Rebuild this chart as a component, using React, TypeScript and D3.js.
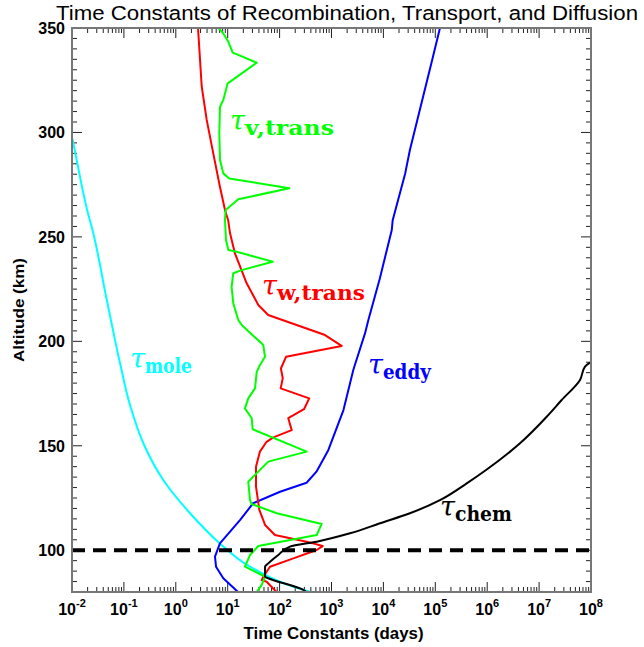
import React from "react";
import * as d3 from "d3";

// ---- data (time constants in days vs altitude in km) ----
const moleTau = [0.0102, 0.0123, 0.0215, 0.0229, 0.0468, 0.0841, 0.131, 0.255, 0.574, 1.88, 6.46, 26.9, 117, 389];
const moleAlt = [297, 286.8, 259, 256.6, 219.8, 189.6, 169.5, 149.4, 133.6, 117.7, 104.1, 92.1, 84.3, 80];

const eddyTau = [1.23e5, 8.7e4, 3.24e4, 2.63e4, 1.74e4, 1.51e4, 1.45e4, 8510, 5130, 4420, 2820, 2630, 1700, 871, 513, 331, 102, 30.9, 17.4, 7.08, 5.69, 5.96, 8.22, 15.8];
const eddyAlt = [350, 334.7, 291.6, 280.4, 263.7, 258, 253.3, 230, 210.2, 203.8, 188.7, 186.3, 167.1, 148, 137.6, 132.3, 128, 122.5, 114.5, 103.3, 96.9, 92.1, 86.6, 80];

const wTau = [2.68, 3.16, 3.94, 5.27, 7.08, 8.87, 10.2, 11.1, 13.8, 23.2, 38.9, 60.3, 750, 1570, 133, 106, 115, 105, 372, 295, 147, 171, 75.9, 56.2, 41.7, 35.1, 35.1, 40.7, 52.5, 81.3, 331, 676, 519, 184, 65.3, 48.5, 45.2, 56.2, 87.1];
const wAlt = [350, 321.9, 306, 290, 274, 262.9, 258, 251.7, 242.1, 227.8, 217.4, 212.6, 203, 197.8, 192.6, 187, 182.3, 177.5, 172.7, 167.5, 163.2, 157.5, 154, 151.9, 147.2, 140, 130.4, 119.3, 112.1, 107.3, 104.1, 102, 100.1, 96.1, 92.1, 87.3, 85.7, 84.9, 80];

const vTau = [6.61, 8.22, 10.3, 12.5, 36.2, 10.0, 8.22, 7.11, 6.89, 7.11, 8.22, 10.7, 154, 16.0, 9.14, 8.87, 9.27, 10.3, 14.9, 73.6, 18.6, 12.8, 11.9, 12.8, 16.0, 18.6, 48.5, 52.4, 41.9, 36.2, 33.6, 24.9, 21.5, 29.0, 30.3, 333, 60.5, 24.9, 26.9, 29.0, 87.9, 647, 519, 38.9, 26.9, 21.5, 52.4, 45.2, 36.2];
const vAlt = [350, 347.4, 343.4, 338.2, 333.4, 323.5, 315.5, 312.3, 299.6, 286.8, 280.4, 278, 273.3, 268, 262.9, 258.1, 248.5, 243.7, 242.9, 238.1, 234.1, 232.6, 226.1, 218.2, 210.2, 207.8, 198.2, 192.6, 188.7, 185.4, 177.5, 172.7, 167.9, 163.2, 157.9, 147.2, 142.4, 132.8, 124, 122.1, 117.7, 112.6, 107.3, 102, 97.7, 92.1, 87.3, 83.4, 80];

const chemTau = [331, 286, 60.5, 52.4, 52.4, 60.5, 94.4, 158, 519, 2270, 8590, 3.24e4, 1.23e5, 4.03e5, 9.5e5, 4.29e6, 1.4e7, 2.72e7, 6.14e7, 7.66e7, 9.55e7];
const chemAlt = [80, 81, 86.6, 87.3, 92.1, 93.7, 97.7, 101.7, 104.1, 108.1, 112.9, 117.7, 124, 132, 138.4, 151.2, 163.9, 171.9, 181.5, 187.9, 189.8];

const xDecades = [-2, -1, 0, 1, 2, 3, 4, 5, 6, 7, 8];
const yMajor = [100, 150, 200, 250, 300, 350];
const refAltitude = 100;

const W = 644, H = 647;
const L = 72, R = 591, T = 28, B = 592;

export default function App() {
  const x = d3.scaleLog().domain([1e-2, 1e8]).range([L, R]);
  const y = d3.scaleLinear().domain([80, 350]).range([B, T]);

  const mk = (taus: number[], alts: number[], curve: d3.CurveFactory) =>
    d3.line<number>().curve(curve).x((_, i) => x(taus[i])).y((_, i) => y(alts[i]))(taus) || "";

  const minorX: number[] = [];
  for (let k = -2; k < 8; k++) for (let m = 2; m <= 9; m++) minorX.push(m * Math.pow(10, k));
  const minorY: number[] = d3.range(80, 351, 5).filter((v) => v % 50 !== 0 && v > 80);

  const axisCol = "#777";
  const tickCol = "#222";
  const sans = "'Liberation Sans', Arial, sans-serif";
  const serif = "'DejaVu Serif', serif";

  const series = [
    { t: moleTau, a: moleAlt, c: "#00FFFF", k: d3.curveMonotoneY },
    { t: eddyTau, a: eddyAlt, c: "#0000FF", k: d3.curveLinear },
    { t: wTau, a: wAlt, c: "#FF0000", k: d3.curveLinear },
    { t: vTau, a: vAlt, c: "#00FF00", k: d3.curveLinear },
    { t: chemTau, a: chemAlt, c: "#000000", k: d3.curveMonotoneY },
  ];

  const label = (xp: number, yp: number, sub: string, col: string, subLen: number) => (
    <text x={xp} y={yp} fill={col} fontFamily={serif}>
      <tspan fontStyle="italic" fontSize={27}>τ</tspan>
      <tspan fontWeight="bold" fontSize={20} dy={5} textLength={subLen} lengthAdjust="spacingAndGlyphs">{sub}</tspan>
    </text>
  );

  return (
    <svg width={W} height={H} style={{ position: "absolute", left: 0, top: 0, background: "#fff" }}>
      <defs>
        <clipPath id="plot">
          <rect x={L} y={T} width={R - L} height={B - T} />
        </clipPath>
      </defs>
      <rect x={0} y={0} width={W} height={H} fill="#fff" />
      <text x={347} y={20} textAnchor="middle" fontFamily={sans} fontSize={20} textLength={582} lengthAdjust="spacingAndGlyphs">
        Time Constants of Recombination, Transport, and Diffusion
      </text>

      {/* ticks */}
      <g stroke={tickCol} strokeWidth={1}>
        {xDecades.map((d) => (
          <g key={"xm" + d}>
            <line x1={x(Math.pow(10, d))} x2={x(Math.pow(10, d))} y1={B} y2={B - 10} />
            <line x1={x(Math.pow(10, d))} x2={x(Math.pow(10, d))} y1={T} y2={T + 10} />
          </g>
        ))}
        {minorX.map((v, i) => (
          <g key={"xn" + i}>
            <line x1={x(v)} x2={x(v)} y1={B} y2={B - 5} />
            <line x1={x(v)} x2={x(v)} y1={T} y2={T + 5} />
          </g>
        ))}
        {yMajor.map((v) => (
          <g key={"ym" + v}>
            <line x1={L} x2={L + 10} y1={y(v)} y2={y(v)} />
            <line x1={R} x2={R - 10} y1={y(v)} y2={y(v)} />
          </g>
        ))}
        {minorY.map((v) => (
          <g key={"yn" + v}>
            <line x1={L} x2={L + 5} y1={y(v)} y2={y(v)} />
            <line x1={R} x2={R - 5} y1={y(v)} y2={y(v)} />
          </g>
        ))}
      </g>

      <g clipPath="url(#plot)" fill="none" strokeWidth={2} strokeLinejoin="round">
        {series.map((s, i) => (
          <path key={i} d={mk(s.t, s.a, s.k)} stroke={s.c} />
        ))}
        <line x1={L} x2={R} y1={y(refAltitude)} y2={y(refAltitude)} stroke="#000" strokeWidth={4} strokeDasharray="13,8" />
      </g>

      <rect x={L} y={T} width={R - L} height={B - T} fill="none" stroke={axisCol} strokeWidth={2} />

      {/* tick labels */}
      {yMajor.map((v) => (
        <text key={"yl" + v} x={65} y={y(v) + 6} textAnchor="end" fontFamily={sans} fontWeight="bold" fontSize={16}>
          {v}
        </text>
      ))}
      {xDecades.map((d) => (
        <text key={"xl" + d} x={x(Math.pow(10, d))} y={615} textAnchor="middle" fontFamily={sans} fontWeight="bold" fontSize={16}>
          10<tspan fontSize={11} dy={-8}>{d}</tspan>
        </text>
      ))}
      <text x={(L + R) / 2 + 2} y={639} textAnchor="middle" fontFamily={sans} fontWeight="bold" fontSize={16} textLength={180} lengthAdjust="spacingAndGlyphs">
        Time Constants (days)
      </text>
      <text transform={`translate(24,${(T + B) / 2}) rotate(-90)`} textAnchor="middle" fontFamily={sans} fontWeight="bold" fontSize={15} textLength={104} lengthAdjust="spacingAndGlyphs">
        Altitude (km)
      </text>

      {label(230, 130, "v,trans", "#00FF00", 89)}
      {label(262, 295, "w,trans", "#FF0000", 88)}
      {label(130, 368, "mole", "#00FFFF", 47)}
      {label(368, 374, "eddy", "#0000FF", 48)}
      {label(440, 516, "chem", "#000000", 57)}
    </svg>
  );
}
